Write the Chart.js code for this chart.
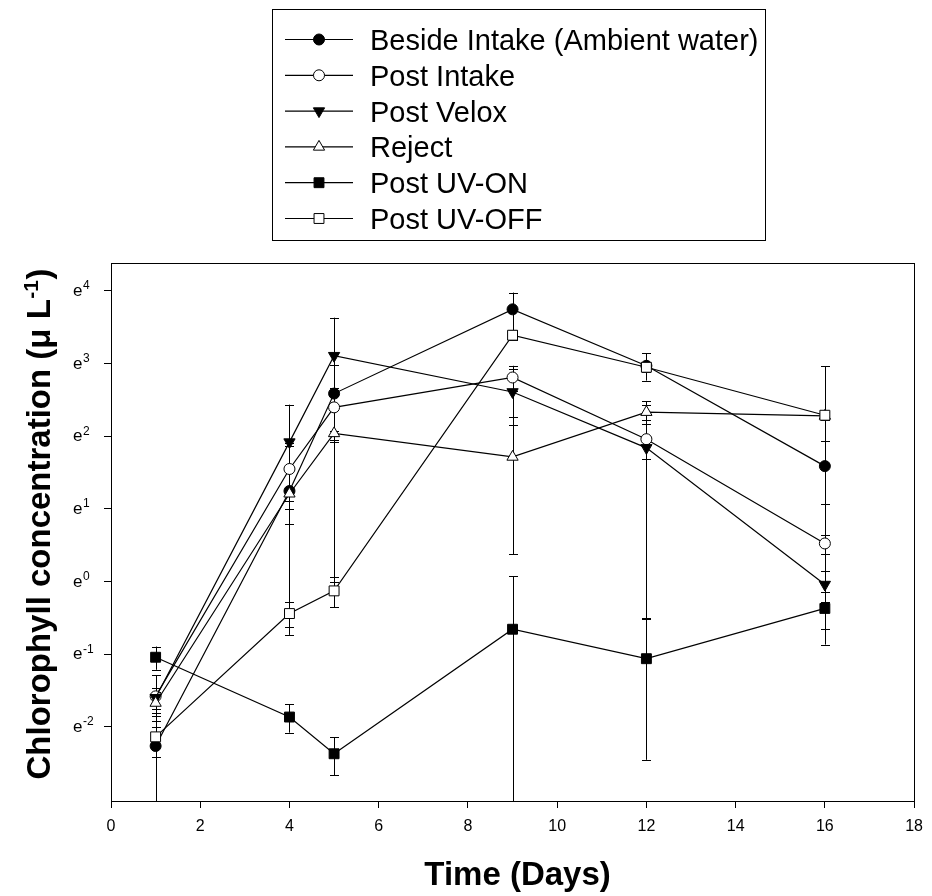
<!DOCTYPE html>
<html>
<head>
<meta charset="utf-8">
<title>Chlorophyll concentration over time</title>
<script src="https://cdn.jsdelivr.net/npm/chart.js@4.4.1/dist/chart.umd.min.js"></script>
<style>
  html, body { margin: 0; padding: 0; background: #fff; }
</style>
</head>
<body>
<canvas id="chart" width="932" height="896"></canvas>
<script>
// sampling days
const days = [1, 4, 5, 9, 12, 16]

// chlorophyll (ug/L) and its error, one pair per series
const besideIntake = [0.104, 3.48, 13.3, 42.4, 19.5, 4.9]
const besideIntakeErr = [0.06, 3.0, 6.5, 11.0, 3.6, 2.0]
const postIntake = [0.206, 4.71, 11.0, 16.6, 7.1, 1.69]
const postIntakeErr = [0.07, 2.0, 3.0, 2.9, 1.7, 0.22]
const postVelox = [0.202, 6.82, 22.4, 13.6, 6.3, 0.96]
const postVeloxErr = [0.03, 4.6, 15.4, 5.0, 5.7, 0.2]
const reject = [0.188, 3.35, 7.69, 5.56, 10.3, 9.78]
const rejectErr = [0.03, 0.3, 6.7, 4.1, 1.0, 0.5]
const postUvOn = [0.353, 0.155, 0.0935, 0.519, 0.346, 0.691]
const postUvOnErr = [0.056, 0.03, 0.024, 0.56, 0.26, 0.17]
const postUvOff = [0.118, 0.644, 0.88, 29.7, 19.1, 9.87]
const postUvOffErr = [0.029, 0.11, 0.18, 2.0, 1.2, 9.45]

const seriesNames = [
  "Beside Intake (Ambient water)",
  "Post Intake",
  "Post Velox",
  "Reject",
  "Post UV-ON",
  "Post UV-OFF",
]

const xTicks = [0, 2, 4, 6, 8, 10, 12, 14, 16, 18]
const yTickPowers = [-2, -1, 0, 1, 2, 3, 4]
const yTickBase = "e"
const yTickLabels = ["-2", "-1", "0", "1", "2", "3", "4"]
const yMinPower = -3.02
const yMaxPower = 4.385

const FONT = "'Liberation Sans', Arial, Helvetica, sans-serif"

const markers = [
  { pointStyle: "circle", rotation: 0, radius: 5.5, fill: "#000" },
  { pointStyle: "circle", rotation: 0, radius: 5.5, fill: "#fff" },
  { pointStyle: "triangle", rotation: 180, radius: 6.5, fill: "#000" },
  { pointStyle: "triangle", rotation: 0, radius: 6.5, fill: "#fff" },
  { pointStyle: "rect", rotation: 0, radius: 7, fill: "#000" },
  { pointStyle: "rect", rotation: 0, radius: 7, fill: "#fff" },
]

const values = [besideIntake, postIntake, postVelox, reject, postUvOn, postUvOff]
const errors = [besideIntakeErr, postIntakeErr, postVeloxErr, rejectErr, postUvOnErr, postUvOffErr]

const datasets = seriesNames.map((name, i) => ({
  label: name,
  data: days.map((d, j) => ({ x: d, y: values[i][j] })),
  errors: errors[i],
  showLine: true,
  borderColor: "#000",
  borderWidth: 1.2,
  tension: 0,
  pointStyle: markers[i].pointStyle,
  pointRotation: markers[i].rotation,
  pointRadius: markers[i].radius,
  pointHoverRadius: markers[i].radius,
  pointBackgroundColor: markers[i].fill,
  pointBorderColor: "#000",
  pointBorderWidth: 1,
  order: seriesNames.length - i, // later series on top
}))

const errorBars = {
  id: "errorBars",
  beforeDatasetsDraw(chart) {
    const { ctx, chartArea, scales } = chart
    ctx.save()
    ctx.strokeStyle = "#000"
    ctx.lineWidth = 1
    chart.data.datasets.forEach((ds) => {
      ds.data.forEach((p, i) => {
        const err = ds.errors[i]
        const x = Math.round(scales.x.getPixelForValue(p.x)) + 0.5
        let top = scales.y.getPixelForValue(p.y + err)
        const hasLow = p.y - err > 0
        let bottom = hasLow ? scales.y.getPixelForValue(p.y - err) : chartArea.bottom
        const topCap = top >= chartArea.top
        const bottomCap = hasLow && bottom <= chartArea.bottom
        top = Math.max(top, chartArea.top)
        bottom = Math.min(bottom, chartArea.bottom)
        ctx.beginPath()
        ctx.moveTo(x, top)
        ctx.lineTo(x, bottom)
        if (topCap) {
          const ty = Math.round(top) + 0.5
          ctx.moveTo(x - 4.5, ty)
          ctx.lineTo(x + 4.5, ty)
        }
        if (bottomCap) {
          const by = Math.round(bottom) + 0.5
          ctx.moveTo(x - 4.5, by)
          ctx.lineTo(x + 4.5, by)
        }
        ctx.stroke()
      })
    })
    ctx.restore()
  },
}

const decorations = {
  id: "decorations",
  afterDraw(chart) {
    const { ctx, chartArea, scales } = chart
    const { left, right, top, bottom } = chartArea
    ctx.save()

    // plot frame
    ctx.strokeStyle = "#000"
    ctx.lineWidth = 1
    ctx.strokeRect(Math.round(left) + 0.5, Math.round(top) + 0.5, Math.round(right - left), Math.round(bottom - top))

    // y tick labels: e with raised exponent
    ctx.fillStyle = "#000"
    ctx.textAlign = "left"
    ctx.textBaseline = "alphabetic"
    yTickPowers.forEach((p, i) => {
      const y = scales.y.getPixelForValue(Math.exp(p))
      ctx.font = `17px ${FONT}`
      ctx.fillText(yTickBase, 73, y + 5)
      const w = ctx.measureText(yTickBase).width
      ctx.font = `12px ${FONT}`
      ctx.fillText(yTickLabels[i], 73 + w + 0.5, y - 1.5)
    })

    // x title
    ctx.font = `bold 33px ${FONT}`
    ctx.textAlign = "center"
    ctx.fillText("Time (Days)", (left + right) / 2 + 5, 885)

    // y title with superscript
    ctx.save()
    ctx.translate(50, 524)
    ctx.rotate(-Math.PI / 2)
    ctx.textAlign = "left"
    const main = "Chlorophyll concentration (\u03bc L"
    const sup = "-1"
    const close = ")"
    ctx.font = `bold 33px ${FONT}`
    const wMain = ctx.measureText(main).width
    const wClose = ctx.measureText(close).width
    ctx.font = `bold 21px ${FONT}`
    const wSup = ctx.measureText(sup).width
    let x0 = -(wMain + wSup + wClose + 1) / 2
    ctx.font = `bold 33px ${FONT}`
    ctx.fillText(main, x0, 0)
    ctx.font = `bold 21px ${FONT}`
    ctx.fillText(sup, x0 + wMain + 0.5, -12)
    ctx.font = `bold 33px ${FONT}`
    ctx.fillText(close, x0 + wMain + wSup + 1, 0)
    ctx.restore()

    // legend box
    const box = { x: 272.5, y: 9.5, w: 493, h: 231 }
    ctx.strokeStyle = "#000"
    ctx.strokeRect(box.x, box.y, box.w, box.h)
    ctx.font = `29px ${FONT}`
    ctx.textAlign = "left"
    seriesNames.forEach((name, i) => {
      const ry = 39.5 + i * 35.8
      ctx.beginPath()
      ctx.moveTo(285, ry)
      ctx.lineTo(353, ry)
      ctx.lineWidth = 1.2
      ctx.strokeStyle = "#000"
      ctx.stroke()
      ctx.fillStyle = markers[i].fill
      ctx.lineWidth = 1
      Chart.helpers.drawPoint(ctx, {
        pointStyle: markers[i].pointStyle,
        rotation: markers[i].rotation,
        radius: markers[i].radius,
        borderWidth: 1,
      }, 319, ry)
      ctx.fillStyle = "#000"
      ctx.fillText(name, 370, ry + 10.4)
    })

    ctx.restore()
  },
}

new Chart(document.getElementById("chart"), {
  type: "scatter",
  data: { datasets },
  options: {
    responsive: false,
    devicePixelRatio: 1,
    animation: false,
    layout: { padding: { top: 263, right: 14, bottom: 0, left: 0 } },
    plugins: {
      legend: { display: false },
      tooltip: { enabled: false },
    },
    scales: {
      x: {
        type: "linear",
        min: 0,
        max: 18,
        afterBuildTicks: (scale) => {
          scale.ticks = xTicks.map((v) => ({ value: v }))
        },
        afterFit: (scale) => {
          scale.height = 95
        },
        grid: { drawOnChartArea: false, tickLength: 7, color: "#000" },
        border: { display: false },
        ticks: {
          color: "#000",
          font: { family: FONT, size: 16 },
          padding: 9,
          maxRotation: 0,
          autoSkip: false,
          callback: (v) => String(v),
        },
      },
      y: {
        type: "logarithmic",
        min: Math.exp(yMinPower),
        max: Math.exp(yMaxPower),
        afterBuildTicks: (scale) => {
          scale.ticks = yTickPowers.map((p) => ({ value: Math.exp(p) }))
        },
        afterFit: (scale) => {
          scale.width = 111
        },
        grid: { drawOnChartArea: false, tickLength: 7, color: "#000" },
        border: { display: false },
        ticks: { display: false },
      },
    },
  },
  plugins: [errorBars, decorations],
})
</script>
</body>
</html>
